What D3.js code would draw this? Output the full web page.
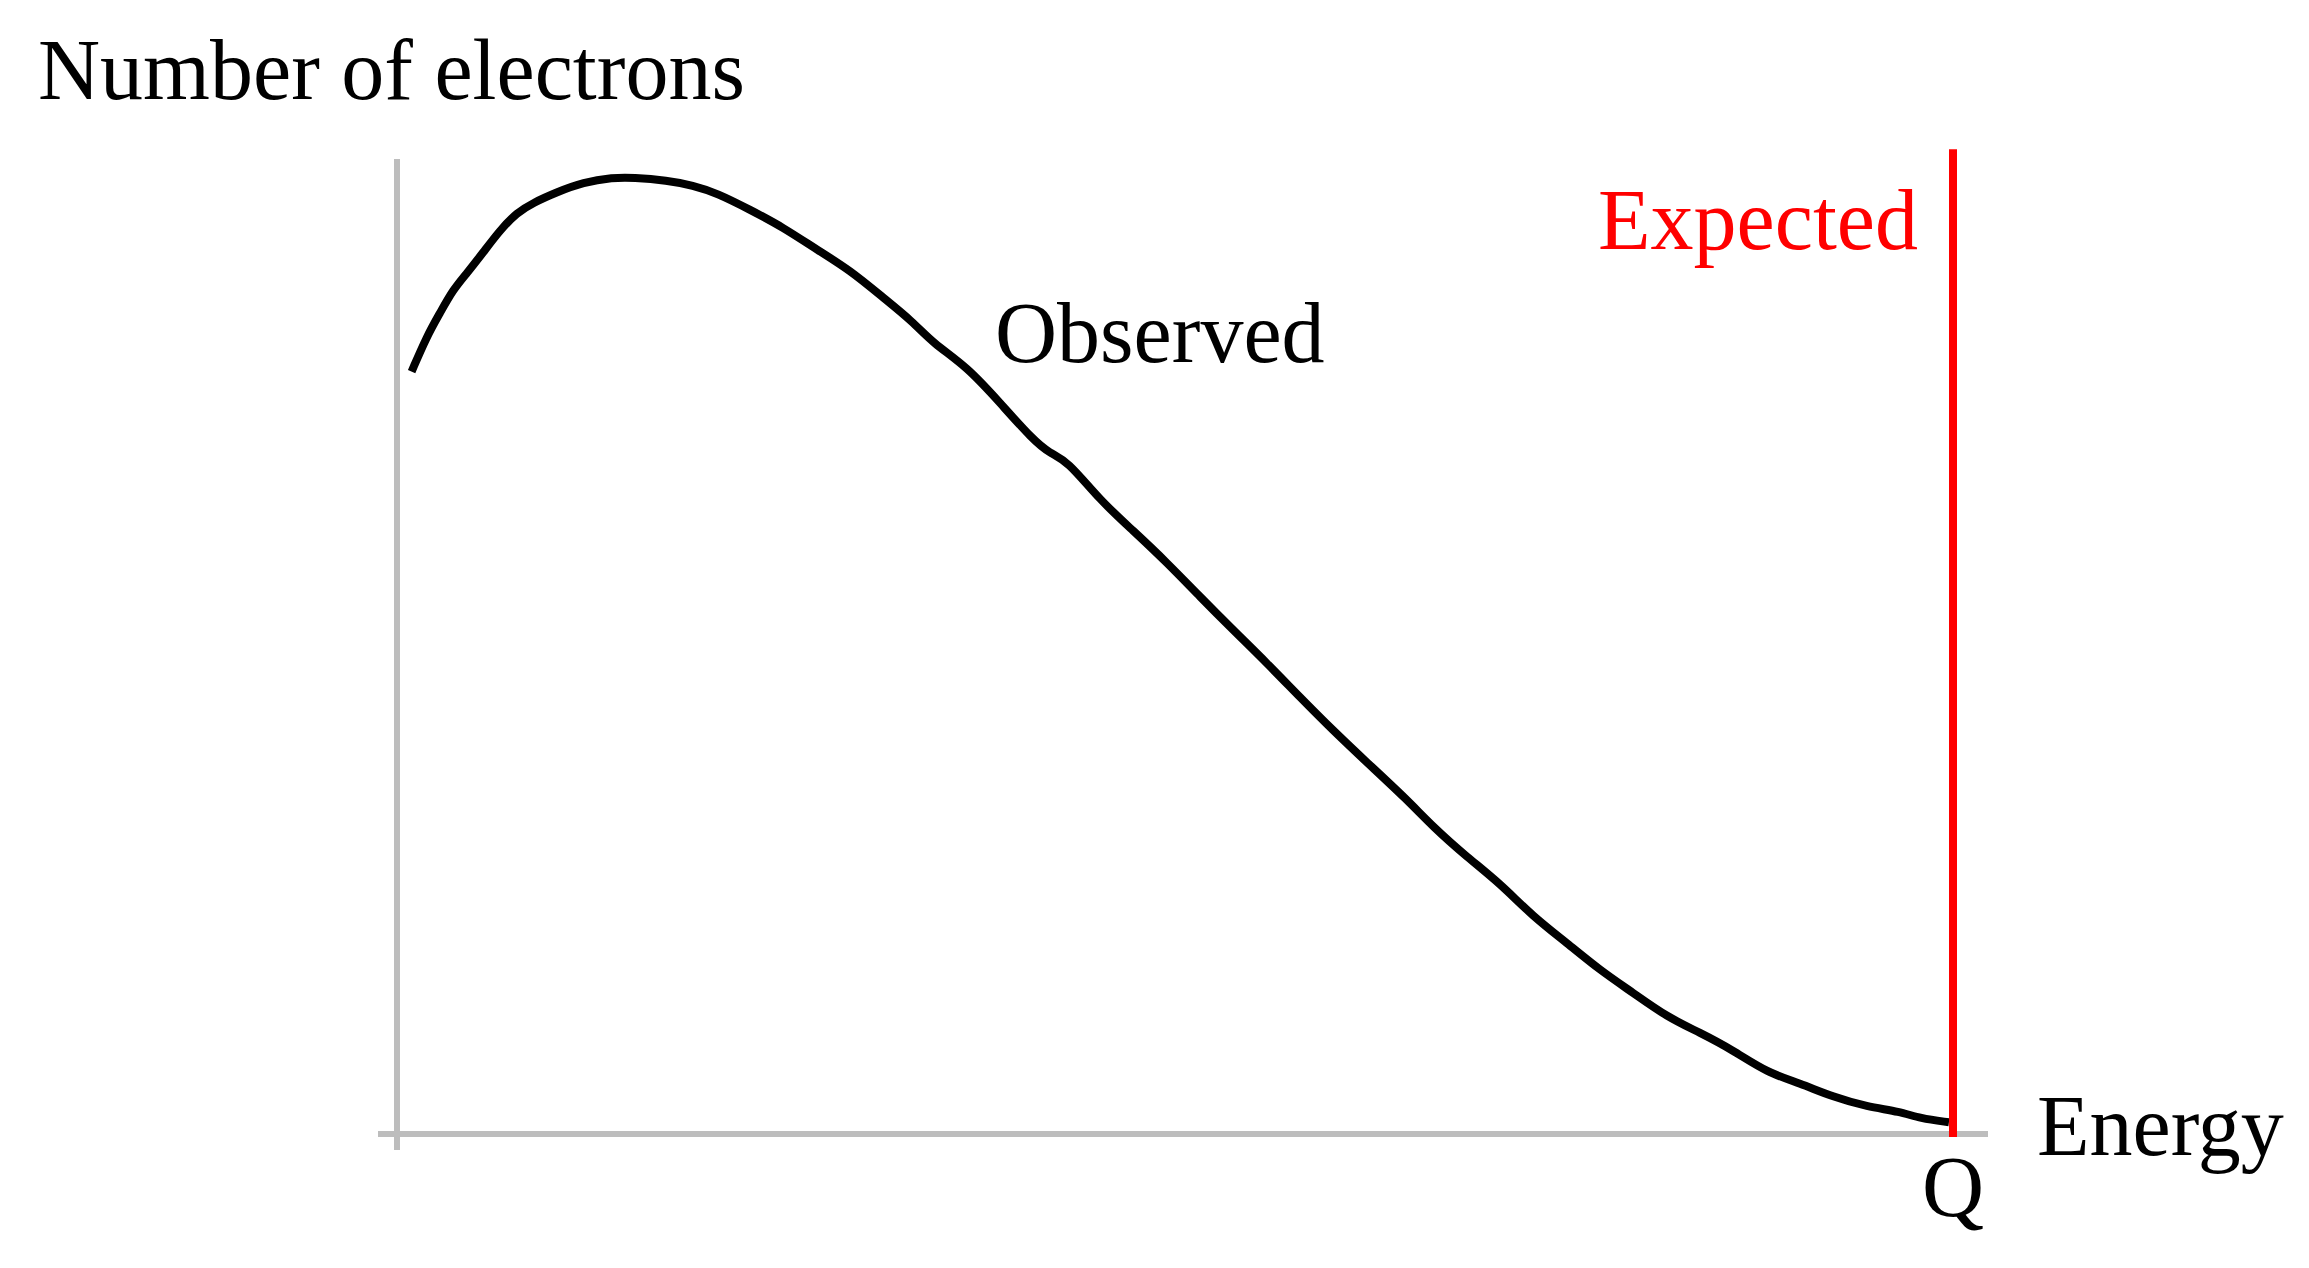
<!DOCTYPE html>
<html>
<head>
<meta charset="utf-8">
<script src="https://cdn.jsdelivr.net/npm/d3@7"></script>
<style>
  html, body { margin: 0; padding: 0; background: #ffffff; }
  svg { display: block; }
  text { font-family: "Liberation Serif", "Times New Roman", serif; }
</style>
</head>
<body>
<svg id="chart" width="2309" height="1268"></svg>
<script>
// Energy as a fraction of the endpoint Q (0..1)
const energy = [0.0094, 0.0191, 0.0276, 0.036, 0.045, 0.0553, 0.0662, 0.0771, 0.0874, 0.1028,
  0.1195, 0.1388, 0.1517, 0.1735, 0.1902, 0.2057, 0.2269, 0.2481, 0.2699, 0.2911,
  0.3123, 0.3316, 0.3445, 0.3663, 0.3875, 0.4087, 0.4197, 0.4306, 0.4518, 0.473,
  0.4949, 0.5161, 0.5373, 0.5591, 0.5803, 0.6015, 0.6234, 0.6491, 0.6658, 0.6877,
  0.7089, 0.7301, 0.7519, 0.7731, 0.7943, 0.8162, 0.8374, 0.8586, 0.8805, 0.9017,
  0.9229, 0.9447, 0.9659, 0.9788, 0.9974];
// Observed number of electrons (arbitrary units, 0..100)
const counts = [78.2, 81.8, 84.2, 86.6, 88.3, 90.4, 92.7, 94.5, 95.5, 96.6,
  97.6, 98.1, 98.1, 97.8, 97.3, 96.5, 94.8, 93.0, 90.7, 88.6,
  85.8, 83.3, 81.1, 78.7, 75.0, 71.2, 69.8, 69.1, 65.0, 61.9,
  58.6, 55.1, 51.7, 48.3, 44.8, 41.4, 38.1, 34.3, 31.5, 28.4,
  25.7, 22.3, 19.6, 16.8, 14.5, 12.0, 10.4, 8.6, 6.3, 5.2,
  3.8, 2.8, 2.3, 1.6, 1.2];
// Expected: all electrons at the endpoint energy Q
const expectedEnergy = [1];
const expectedRange = [0, 101];
const labels = {
  yTitle: "Number of electrons",
  xTitle: "Energy",
  qTick: "Q",
  observed: "Observed",
  expected: "Expected"
};

const svg = d3.select("#chart");
const x = d3.scaleLinear().domain([0, 1]).range([397, 1953]);
const y = d3.scaleLinear().domain([0, 100]).range([1134, 159]);

const axisColor = "#bdbdbd";
// y axis line
svg.append("line")
  .attr("x1", x(0)).attr("x2", x(0))
  .attr("y1", y(100)).attr("y2", y(0) + 16)
  .attr("stroke", axisColor).attr("stroke-width", 6);
// x axis line
svg.append("line")
  .attr("x1", x(0) - 19).attr("x2", x(1) + 35)
  .attr("y1", y(0)).attr("y2", y(0))
  .attr("stroke", axisColor).attr("stroke-width", 6);

// observed curve
const pts = energy.map((e, i) => [e, counts[i]]);
const line = d3.line()
  .x(d => x(d[0]))
  .y(d => y(d[1]))
  .curve(d3.curveBasis);
svg.append("path")
  .datum(pts)
  .attr("d", line)
  .attr("fill", "none")
  .attr("stroke", "#000")
  .attr("stroke-width", 8)
  .attr("stroke-linecap", "butt")
  .attr("stroke-linejoin", "round");

// expected line
svg.selectAll("line.expected")
  .data(expectedEnergy)
  .enter().append("line")
  .attr("class", "expected")
  .attr("x1", d => x(d)).attr("x2", d => x(d))
  .attr("y1", y(expectedRange[1])).attr("y2", y(expectedRange[0]) + 3)
  .attr("stroke", "#ff0000").attr("stroke-width", 8);

// texts
const fs = 86;
svg.append("text").attr("x", 38).attr("y", 99)
  .attr("font-size", fs).attr("fill", "#000").text(labels.yTitle);
svg.append("text").attr("x", 995).attr("y", 362)
  .attr("font-size", fs).attr("fill", "#000").text(labels.observed);
svg.append("text").attr("x", x(1) - 35).attr("y", 249)
  .attr("text-anchor", "end")
  .attr("font-size", fs).attr("fill", "#ff0000").text(labels.expected);
svg.append("text").attr("x", 2037).attr("y", 1155)
  .attr("font-size", fs).attr("fill", "#000").text(labels.xTitle);
svg.append("text").attr("x", x(1)).attr("y", 1216)
  .attr("text-anchor", "middle")
  .attr("font-size", fs).attr("fill", "#000").text(labels.qTick);
</script>
</body>
</html>
